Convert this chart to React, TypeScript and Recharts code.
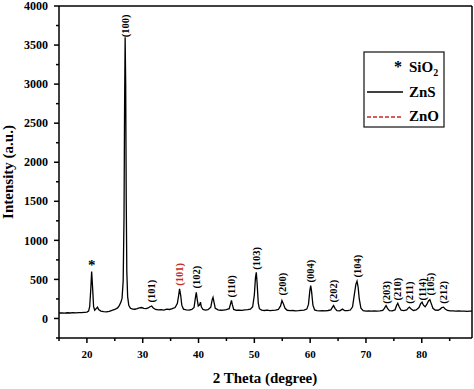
import { ComposedChart, Line, Scatter, XAxis, YAxis, ReferenceLine } from 'recharts';

document.body.style.margin = '0';

// XRD pattern (2 theta in degrees, intensity in a.u.)
const twoTheta = [
  15.0, 15.5, 16.0, 16.5, 17.0, 17.5, 18.0, 18.5, 19.0, 19.5,
  20.0, 20.3, 20.5, 20.7, 20.85, 21.0, 21.2, 21.4, 21.7, 21.9,
  22.1, 22.5, 23.0, 23.5, 24.0, 24.5, 25.0, 25.5, 25.8, 26.1,
  26.3, 26.5, 26.65, 26.75, 26.85, 26.95, 27.05, 27.15, 27.3, 27.5,
  27.8, 28.2, 28.6, 29.0, 29.4, 29.8, 30.2, 30.6, 31.0, 31.3,
  31.6, 31.9, 32.3, 32.8, 33.3, 33.8, 34.3, 34.8, 35.3, 35.8,
  36.2, 36.45, 36.6, 36.8, 37.0, 37.3, 37.8, 38.3, 38.8, 39.2,
  39.45, 39.6, 39.75, 39.95, 40.2, 40.35, 40.5, 40.8, 41.2, 41.7,
  42.2, 42.45, 42.6, 42.8, 43.0, 43.5, 44.0, 44.5, 45.0, 45.5,
  45.75, 45.9, 46.05, 46.3, 46.8, 47.3, 47.8, 48.3, 48.8, 49.3,
  49.7, 50.0, 50.2, 50.35, 50.5, 50.7, 50.9, 51.3, 51.8, 52.3,
  52.8, 53.3, 53.8, 54.3, 54.7, 54.95, 55.2, 55.5, 55.9, 56.4,
  56.9, 57.4, 57.9, 58.4, 58.9, 59.4, 59.7, 59.95, 60.1, 60.25,
  60.5, 60.8, 61.2, 61.7, 62.2, 62.7, 63.2, 63.7, 64.0, 64.2,
  64.45, 64.8, 65.3, 65.8, 66.2, 66.7, 67.2, 67.6, 67.9, 68.2,
  68.4, 68.6, 68.8, 69.1, 69.5, 70.0, 70.5, 71.0, 71.5, 72.0,
  72.5, 73.0, 73.3, 73.6, 73.85, 74.2, 74.7, 75.2, 75.5, 75.7,
  75.95, 76.3, 76.8, 77.3, 77.6, 77.8, 78.1, 78.5, 79.0, 79.5,
  79.8, 80.05, 80.3, 80.6, 80.9, 81.2, 81.45, 81.7, 82.0, 82.4,
  82.9, 83.3, 83.6, 83.9, 84.2, 84.6, 85.1, 85.6, 86.1, 86.6,
  87.1, 87.6, 88.1, 88.6, 89.0,
];
const intensity = [
  70, 72, 68, 73, 70, 74, 72, 76, 74, 78,
  82, 95, 150, 380, 600, 420, 150, 105, 130, 145,
  115, 95, 88, 85, 92, 105, 115, 135, 165, 210,
  260, 480, 1300, 2700, 3600, 3000, 1500, 600, 280, 170,
  130, 120, 118, 125, 135, 140, 128, 125, 135, 150,
  160, 135, 115, 110, 112, 108, 120, 115, 125, 140,
  190, 300, 380, 300, 170, 120, 110, 108, 115, 140,
  270, 335, 250, 160, 175, 210, 150, 115, 108, 112,
  145, 240, 270, 200, 130, 110, 105, 108, 112, 125,
  190, 230, 180, 115, 105, 108, 103, 110, 112, 118,
  150, 300, 520, 590, 450, 200, 125, 108, 102, 106,
  100, 104, 108, 115, 160, 230, 190, 130, 105, 100,
  102, 98, 100, 104, 108, 120, 180, 360, 420, 350,
  170, 110, 100, 97, 100, 98, 102, 110, 145, 165,
  130, 100, 98, 120, 100, 100, 108, 150, 300, 440,
  477, 400, 250, 130, 100, 95, 98, 94, 96, 93,
  97, 102, 130, 166, 130, 100, 98, 110, 170, 196,
  150, 105, 100, 110, 135, 145, 120, 102, 110, 140,
  190, 208, 170, 150, 180, 225, 240, 190, 130, 108,
  105, 120, 140, 145, 120, 102, 96, 98, 94, 97,
  93, 95, 92, 94, 93,
];

// peak annotations: position, text, height where the text starts, phase
const peakPos = [20.85, 26.85, 31.6, 36.6, 39.6, 45.9, 50.35, 55.0, 60.1, 64.2, 68.4, 73.6, 75.7, 77.8, 80.05, 81.45, 83.9];
const peakText = ['*', '(100)', '(101)', '(101)', '(102)', '(110)', '(103)', '(200)', '(004)', '(202)', '(104)', '(203)', '(210)', '(211)', '(114)', '(105)', '(212)'];
const peakBase = [600, 3600, 205, 420, 385, 270, 625, 295, 460, 205, 525, 190, 230, 190, 230, 295, 190];
const peakPhase = ['SiO2', 'ZnS', 'ZnS', 'ZnO', 'ZnS', 'ZnS', 'ZnS', 'ZnS', 'ZnS', 'ZnS', 'ZnS', 'ZnS', 'ZnS', 'ZnS', 'ZnS', 'ZnS', 'ZnS'];

const xTicks = [15, 20, 25, 30, 35, 40, 45, 50, 55, 60, 65, 70, 75, 80, 85];
const yTicks = [-250, 0, 250, 500, 750, 1000, 1250, 1500, 1750, 2000, 2250, 2500, 2750, 3000, 3250, 3500, 3750, 4000];

const RED = '#c62828';
const SERIF = '"Liberation Serif", "Times New Roman", serif';

const pattern = twoTheta.map((x, i) => ({ x, y: intensity[i] }));
const peaks = peakPos.map((x, i) => ({ x, y: peakBase[i], text: peakText[i], phase: peakPhase[i] }));

const XTick = ({ x, y, payload }: any) => {
  const major = payload.value % 10 === 0;
  return (
    <g>
      <line x1={x} x2={x} y1={y} y2={y + (major ? 5 : 3)} stroke="#000" strokeWidth={1.5} />
      {major && (
        <text x={x} y={y + 20} textAnchor="middle" fontFamily={SERIF} fontWeight="bold" fontSize={11} fill="#000">
          {payload.value}
        </text>
      )}
    </g>
  );
};

const YTick = ({ x, y, payload }: any) => {
  const major = payload.value % 500 === 0;
  return (
    <g>
      <line x1={x} x2={x - (major ? 5 : 3)} y1={y} y2={y} stroke="#000" strokeWidth={1.5} />
      {major && (
        <text x={x - 11} y={y} dy="0.35em" textAnchor="end" fontFamily={SERIF} fontWeight="bold" fontSize={12} fill="#000">
          {payload.value}
        </text>
      )}
    </g>
  );
};

const PeakLabel = ({ cx, cy, payload }: any) => {
  if (payload.text === '*') {
    return (
      <text x={cx} y={cy - 2} textAnchor="middle" fontFamily={SERIF} fontWeight="bold" fontSize={15} fill="#000">*</text>
    );
  }
  return (
    <text
      x={cx}
      y={cy}
      dy="0.35em"
      transform={`rotate(-90 ${cx} ${cy})`}
      textAnchor="start"
      fontFamily={SERIF}
      fontWeight="bold"
      fontSize={10.5}
      fill={payload.phase === 'ZnO' ? RED : '#000'}
    >
      {payload.text}
    </text>
  );
};

export default function App() {
  return (
    <div style={{ position: 'relative', width: 474, height: 389, background: '#fff' }}>
      <ComposedChart width={474} height={389} margin={{ top: 6, right: 2, left: 0, bottom: 0 }}>
        <XAxis
          type="number"
          dataKey="x"
          domain={[15, 89]}
          ticks={xTicks}
          interval={0}
          allowDataOverflow
          axisLine={{ stroke: '#000', strokeWidth: 1.5 }}
          tickLine={false}
          tickSize={0}
          tickMargin={0}
          tick={<XTick />}
          height={51}
          label={(p: any) => (
            <text x={265} y={p.viewBox.y + 45} textAnchor="middle" fontFamily={SERIF} fontWeight="bold" fontSize={15} fill="#000">
              2 Theta (degree)
            </text>
          )}
        />
        <YAxis
          type="number"
          domain={[-250, 4000]}
          ticks={yTicks}
          interval={0}
          allowDataOverflow
          axisLine={{ stroke: '#000', strokeWidth: 1.5 }}
          tickLine={false}
          tickSize={0}
          tickMargin={0}
          tick={<YTick />}
          width={59}
          label={(p: any) => {
            const cy = p.viewBox.y + p.viewBox.height / 2;
            return (
              <text x={12.5} y={cy} transform={`rotate(-90 12.5 ${cy})`} textAnchor="middle" fontFamily={SERIF} fontWeight="bold" fontSize={15} fill="#000">
                Intensity (a.u.)
              </text>
            );
          }}
        />
        <ReferenceLine y={4000} stroke="#000" strokeWidth={1.5} />
        <ReferenceLine x={89} stroke="#000" strokeWidth={1.5} />
        <Line data={pattern} dataKey="y" type="linear" stroke="#000" strokeWidth={1.3} dot={false} isAnimationActive={false} />
        <Scatter data={peaks} dataKey="y" shape={<PeakLabel />} isAnimationActive={false} />
      </ComposedChart>
      <svg width={474} height={389} style={{ position: 'absolute', left: 0, top: 0, pointerEvents: 'none' }}>
        <rect x={364} y={52} width={80} height={75} fill="#fff" stroke="#222" strokeWidth={1.3} />
        <text x={398} y={72} textAnchor="middle" fontFamily={SERIF} fontWeight="bold" fontSize={16}>*</text>
        <text x={409} y={72} fontFamily={SERIF} fontWeight="bold" fontSize={15}>
          SiO<tspan dy={4} fontSize={10}>2</tspan>
        </text>
        <line x1={367} x2={403} y1={92} y2={92} stroke="#000" strokeWidth={1.5} />
        <text x={409} y={97} fontFamily={SERIF} fontWeight="bold" fontSize={15}>ZnS</text>
        <line x1={367} x2={403} y1={117} y2={117} stroke={RED} strokeWidth={1.5} strokeDasharray="4 2" />
        <text x={409} y={121} fontFamily={SERIF} fontWeight="bold" fontSize={15}>ZnO</text>
      </svg>
    </div>
  );
}
